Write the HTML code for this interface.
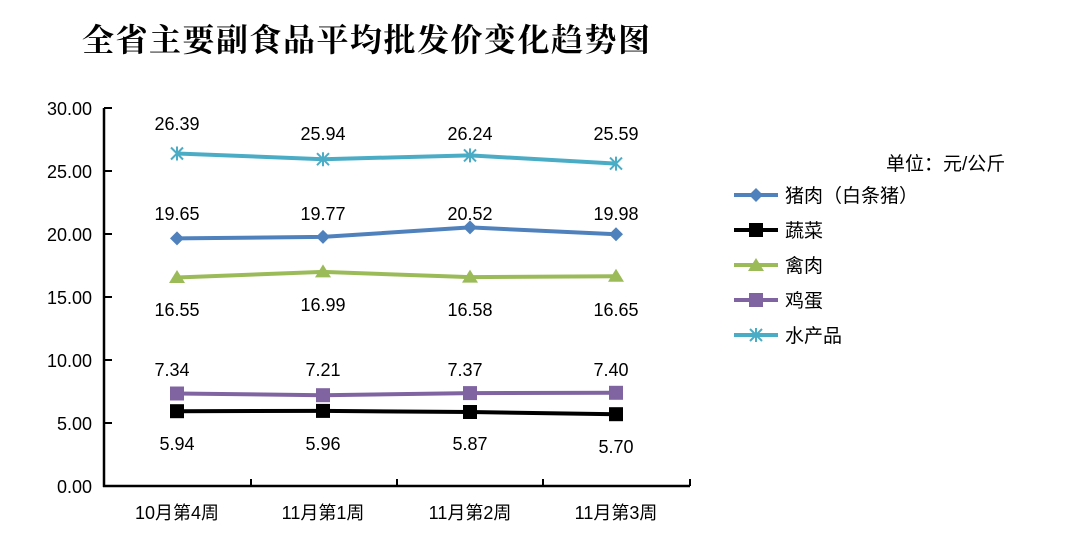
<!DOCTYPE html>
<html><head><meta charset="utf-8"><style>
body{margin:0;background:#fff;}
svg text{font-family:"Liberation Sans","Noto Sans CJK SC",sans-serif;}
</style></head><body>
<svg width="1066" height="545" viewBox="0 0 1066 545" xmlns="http://www.w3.org/2000/svg">
<text x="82" y="51" font-size="32" font-weight="bold" textLength="568" style="font-family:'Noto Serif CJK SC','Noto Sans CJK SC',serif">全省主要副食品平均批发价变化趋势图</text>
<g stroke="#000" stroke-width="2.5" fill="none">
<line x1="104" y1="108" x2="104" y2="487"/>
<line x1="103" y1="486" x2="690" y2="486"/>
</g>
<g stroke="#000" stroke-width="2">
<line x1="104" y1="108" x2="112" y2="108"/><line x1="104" y1="171" x2="112" y2="171"/>
<line x1="104" y1="234" x2="112" y2="234"/><line x1="104" y1="297" x2="112" y2="297"/>
<line x1="104" y1="360" x2="112" y2="360"/><line x1="104" y1="423" x2="112" y2="423"/>
<line x1="251" y1="486" x2="251" y2="479"/><line x1="397" y1="486" x2="397" y2="479"/>
<line x1="543" y1="486" x2="543" y2="479"/><line x1="690" y1="486" x2="690" y2="479"/>
</g>
<g font-size="18" text-anchor="end" fill="#000">
<text x="92" y="115">30.00</text><text x="92" y="178">25.00</text><text x="92" y="241">20.00</text>
<text x="92" y="304">15.00</text><text x="92" y="367">10.00</text><text x="92" y="430">5.00</text><text x="92" y="493">0.00</text>
</g>
<g font-size="18" text-anchor="middle">
<text x="177" y="519">10月第4周</text><text x="323" y="519">11月第1周</text>
<text x="470" y="519">11月第2周</text><text x="616" y="519">11月第3周</text>
</g>
<polyline points="177,153.5 323,159.2 470,155.4 616,163.6" fill="none" stroke="#4BACC6" stroke-width="4"/>
<g stroke="#4BACC6" stroke-width="2">
<path d="M171,147.5l12,12M183,147.5l-12,12M177,146.5v14"/>
<path d="M317,153.2l12,12M329,153.2l-12,12M323,152.2v14"/>
<path d="M464,149.4l12,12M476,149.4l-12,12M470,148.4v14"/>
<path d="M610,157.6l12,12M622,157.6l-12,12M616,156.6v14"/>
</g>
<polyline points="177,238.4 323,236.9 470,227.4 616,234.3" fill="none" stroke="#4F81BD" stroke-width="4"/>
<g fill="#4F81BD">
<path d="M177,231.4l7,7-7,7-7-7z"/><path d="M323,229.9l7,7-7,7-7-7z"/>
<path d="M470,220.4l7,7-7,7-7-7z"/><path d="M616,227.3l7,7-7,7-7-7z"/>
</g>
<polyline points="177,277.5 323,271.9 470,277.1 616,276.2" fill="none" stroke="#9BBB59" stroke-width="4"/>
<g fill="#9BBB59">
<path d="M177,270l8,13h-16z"/><path d="M323,264.4l8,13h-16z"/>
<path d="M470,269.6l8,13h-16z"/><path d="M616,268.7l8,13h-16z"/>
</g>
<polyline points="177,393.5 323,395.2 470,393.1 616,392.8" fill="none" stroke="#8064A2" stroke-width="4"/>
<g fill="#8064A2">
<rect x="170" y="386.5" width="14" height="14"/><rect x="316" y="388.2" width="14" height="14"/>
<rect x="463" y="386.1" width="14" height="14"/><rect x="609" y="385.8" width="14" height="14"/>
</g>
<polyline points="177,411.2 323,410.9 470,412 616,414.2" fill="none" stroke="#000" stroke-width="4"/>
<g fill="#000">
<rect x="170" y="404.2" width="14" height="14"/><rect x="316" y="403.9" width="14" height="14"/>
<rect x="463" y="405" width="14" height="14"/><rect x="609" y="407.2" width="14" height="14"/>
</g>
<g font-size="18" text-anchor="middle">
<text x="177" y="130">26.39</text><text x="323" y="140">25.94</text><text x="470" y="140">26.24</text><text x="616" y="140">25.59</text>
<text x="177" y="220">19.65</text><text x="323" y="220">19.77</text><text x="470" y="220">20.52</text><text x="616" y="220">19.98</text>
<text x="177" y="316">16.55</text><text x="323" y="311">16.99</text><text x="470" y="316">16.58</text><text x="616" y="316">16.65</text>
<text x="172" y="376">7.34</text><text x="323" y="376">7.21</text><text x="465" y="376">7.37</text><text x="611" y="376">7.40</text>
<text x="177" y="450">5.94</text><text x="323" y="450">5.96</text><text x="470" y="450">5.87</text><text x="616" y="453">5.70</text>
</g>
<text x="886" y="170" font-size="19">单位：元/公斤</text>
<g font-size="19">
<line x1="734" y1="195" x2="778" y2="195" stroke="#4F81BD" stroke-width="4"/><path d="M756,188l7,7-7,7-7-7z" fill="#4F81BD"/>
<text x="785" y="202">猪肉（白条猪）</text>
<line x1="734" y1="230" x2="778" y2="230" stroke="#000" stroke-width="4"/><rect x="749" y="223" width="14" height="14"/>
<text x="785" y="237">蔬菜</text>
<line x1="734" y1="265" x2="778" y2="265" stroke="#9BBB59" stroke-width="4"/><path d="M756,258l8,13h-16z" fill="#9BBB59"/>
<text x="785" y="272">禽肉</text>
<line x1="734" y1="300" x2="778" y2="300" stroke="#8064A2" stroke-width="4"/><rect x="749" y="293" width="14" height="14" fill="#8064A2"/>
<text x="785" y="307">鸡蛋</text>
<line x1="734" y1="335" x2="778" y2="335" stroke="#4BACC6" stroke-width="4"/>
<path d="M750,329l12,12M762,329l-12,12M756,328v14" stroke="#4BACC6" stroke-width="2"/>
<text x="785" y="342">水产品</text>
</g>
</svg>
</body></html>
